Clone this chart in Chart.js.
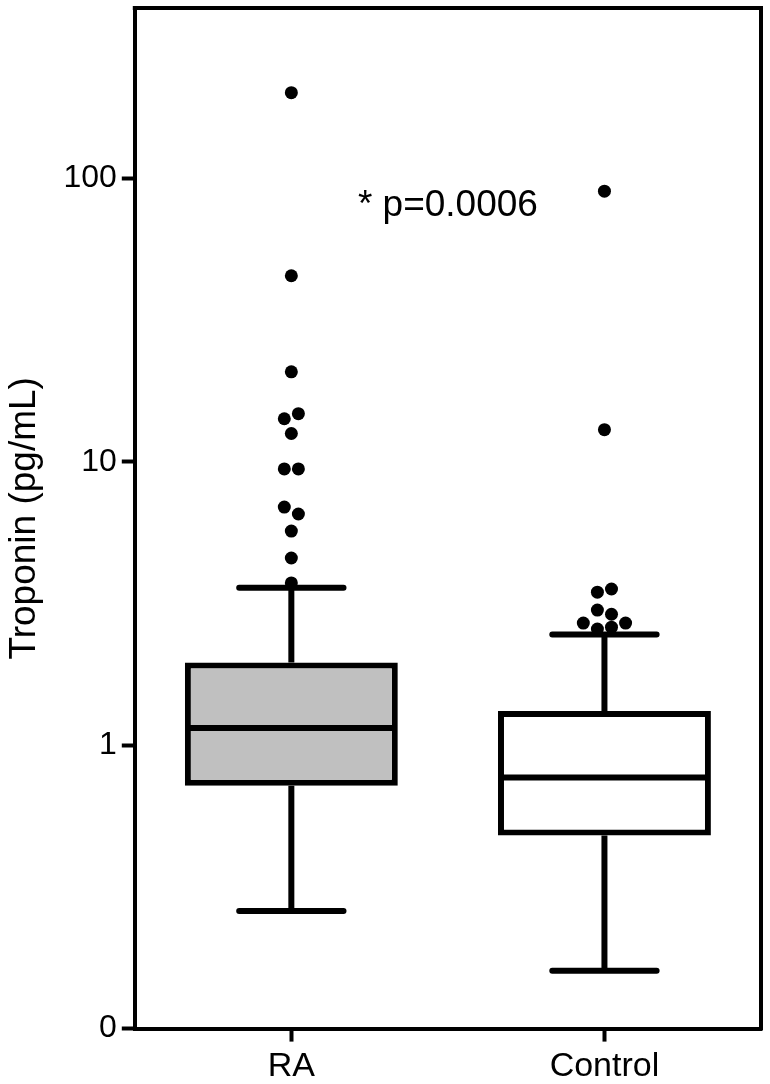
<!DOCTYPE html>
<html>
<head>
<meta charset="utf-8">
<script src="https://cdn.jsdelivr.net/npm/chart.js@4.4.1/dist/chart.umd.min.js"></script>
<style>
  html, body { margin: 0; padding: 0; background: #fff; }
  canvas { display: block; }
</style>
</head>
<body>
<canvas id="troponinChart" width="770" height="1084"></canvas>
<script>
// groups on the x axis
const groups = ['RA', 'Control'];

// box plot summaries (pg/mL), one value per group
const whiskerLow = [0.26, 0.16];
const q1 = [0.72, 0.48];
const median = [1.15, 0.77];
const q3 = [1.96, 1.32];
const whiskerHigh = [3.6, 2.46];

// outliers; points with almost equal values are put side by side in this order
const raOutliers = [201, 45.4, 20.8, 14.2, 14.8, 12.6, 9.45, 9.45, 6.93, 6.55, 5.7, 4.58, 3.74];
const controlOutliers = [90.3, 13.0, 3.47, 3.56, 3.0, 2.9, 2.7, 2.57, 2.61, 2.7];

// y axis (log), the lowest tick is printed as "0"
const yTicks = [0.1, 1, 10, 100];
const yTickLabels = ['0', '1', '10', '100'];
const yMin = 0.1;
const yMax = 400;

const pText = '* p=0.0006';
const pTextValue = 80;

const FONT = 'Arial, "Liberation Sans", Helvetica, sans-serif';
const DODGE = 0.045;     // one dot width, in category units
const CLOSE = 0.028;     // decades: closer than this -> side by side

// spread near-equal values sideways like a dot plot
function dodgePoints(values, center) {
    let idx = values.map((v, i) => i).sort((a, b) => values[a] - values[b]);
    let groupsOf = [];
    let cur = [idx[0]];
    for (let k = 1; k < idx.length; k++) {
        let gap = Math.log10(values[idx[k]]) - Math.log10(values[idx[k - 1]]);
        if (gap < CLOSE) {
            cur.push(idx[k]);
        } else {
            groupsOf.push(cur);
            cur = [idx[k]];
        }
    }
    groupsOf.push(cur);

    let pts = [];
    groupsOf.forEach(g => {
        g.sort((a, b) => a - b);
        g.forEach((i, k) => {
            pts.push({ x: center + (k - (g.length - 1) / 2) * DODGE, y: values[i] });
        });
    });
    return pts;
}

let outlierPoints = dodgePoints(raOutliers, 0).concat(dodgePoints(controlOutliers, 1));

// whiskers, caps and median lines, drawn over the boxes but under the dots
const boxParts = {
    id: 'boxParts',
    afterDatasetDraw(chart, args) {
        if (args.index !== 1) return;
        let ctx = chart.ctx;
        let y = chart.scales.y;
        ctx.save();
        ctx.strokeStyle = '#000';
        ctx.lineWidth = 6;
        args.meta.data.forEach((bar, i) => {
            let cx = bar.x;
            let half = bar.width / 2;
            let cap = bar.width * 0.245;

            ctx.lineCap = 'butt';
            ctx.beginPath();
            ctx.moveTo(cx, y.getPixelForValue(q3[i]));
            ctx.lineTo(cx, y.getPixelForValue(whiskerHigh[i]));
            ctx.moveTo(cx, y.getPixelForValue(q1[i]));
            ctx.lineTo(cx, y.getPixelForValue(whiskerLow[i]));
            ctx.moveTo(cx - half + 3, y.getPixelForValue(median[i]));
            ctx.lineTo(cx + half - 3, y.getPixelForValue(median[i]));
            ctx.stroke();

            ctx.lineCap = 'round';
            ctx.beginPath();
            ctx.moveTo(cx - cap, y.getPixelForValue(whiskerHigh[i]));
            ctx.lineTo(cx + cap, y.getPixelForValue(whiskerHigh[i]));
            ctx.moveTo(cx - cap, y.getPixelForValue(whiskerLow[i]));
            ctx.lineTo(cx + cap, y.getPixelForValue(whiskerLow[i]));
            ctx.stroke();
        });
        ctx.restore();
    }
};

// top and right frame lines + p value text
const frameAndNote = {
    id: 'frameAndNote',
    afterDraw(chart) {
        let ctx = chart.ctx;
        let a = chart.chartArea;
        ctx.save();
        ctx.strokeStyle = '#000';
        ctx.lineWidth = 4;
        ctx.beginPath();
        ctx.moveTo(a.left - 2, a.top);
        ctx.lineTo(a.right, a.top);
        ctx.lineTo(a.right, a.bottom + 2);
        ctx.stroke();

        ctx.fillStyle = '#000';
        ctx.font = '37px ' + FONT;
        ctx.textAlign = 'center';
        ctx.textBaseline = 'middle';
        ctx.fillText(pText, chart.scales.xDots.getPixelForValue(0.5), chart.scales.y.getPixelForValue(pTextValue));
        ctx.restore();
    }
};

// no extra room for half tick labels at the ends of the axes
function noEndPadding(scale) {
    scale.paddingTop = 0;
    scale.paddingBottom = 0;
    scale.paddingLeft = 0;
    scale.paddingRight = 0;
}

let ctx = document.getElementById('troponinChart').getContext('2d');
let troponinChart = new Chart(ctx, {
    type: 'bar',
    data: {
        labels: groups,
        datasets: [
            {
                type: 'scatter',
                label: 'Outliers',
                data: outlierPoints,
                xAxisID: 'xDots',
                yAxisID: 'y',
                pointRadius: 6.5,
                pointBackgroundColor: '#000',
                pointBorderWidth: 0
            },
            {
                label: 'Box',
                data: groups.map((g, i) => [q1[i], q3[i]]),
                xAxisID: 'x',
                yAxisID: 'y',
                backgroundColor: ['#c0c0c0', '#ffffff'],
                borderColor: '#000',
                borderWidth: 6,
                borderSkipped: false,
                grouped: false,
                barPercentage: 0.68,
                categoryPercentage: 1
            }
        ]
    },
    options: {
        responsive: false,
        animation: false,
        events: [],
        layout: { padding: { left: 0, top: 8, right: 9, bottom: -7 } },
        plugins: {
            legend: { display: false },
            tooltip: { enabled: false }
        },
        scales: {
            x: {
                type: 'category',
                offset: true,
                afterFit: noEndPadding,
                grid: {
                    offset: false,
                    drawOnChartArea: false,
                    drawTicks: true,
                    tickLength: 13,
                    tickWidth: 4,
                    tickColor: '#000'
                },
                border: { display: true, width: 4, color: '#000' },
                ticks: { color: '#000', padding: 6, font: { family: FONT, size: 34, lineHeight: 1.1 } }
            },
            xDots: {
                type: 'linear',
                min: -0.5,
                max: 1.5,
                offset: false,
                display: false
            },
            y: {
                type: 'logarithmic',
                min: yMin,
                max: yMax,
                afterFit: noEndPadding,
                afterBuildTicks: axis => {
                    axis.ticks = yTicks.map(v => ({ value: v }));
                },
                grid: {
                    drawOnChartArea: false,
                    drawTicks: true,
                    tickLength: 13,
                    tickWidth: 4,
                    tickColor: '#000'
                },
                border: { display: true, width: 4, color: '#000' },
                ticks: {
                    color: '#000',
                    padding: 5,
                    font: { family: FONT, size: 32 },
                    callback: value => yTickLabels[yTicks.indexOf(value)]
                },
                title: {
                    display: true,
                    text: 'Troponin (pg/mL)',
                    color: '#000',
                    font: { family: FONT, size: 37 },
                    padding: { top: 3, bottom: 11 }
                }
            }
        }
    },
    plugins: [boxParts, frameAndNote]
});
</script>
</body>
</html>
